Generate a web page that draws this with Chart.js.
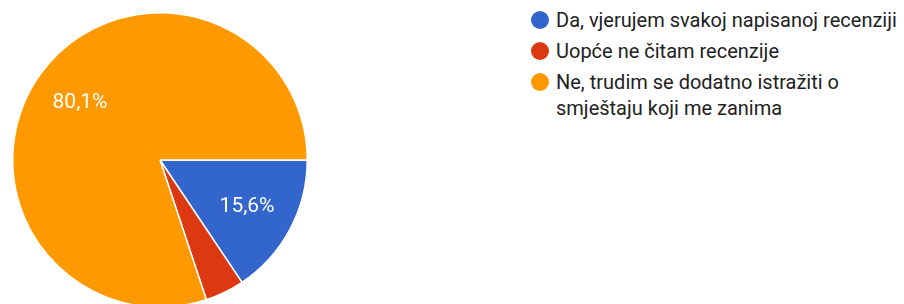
<!DOCTYPE html>
<html>
<head>
<meta charset="utf-8">
<script src="https://cdn.jsdelivr.net/npm/chart.js@4"></script>
<style>
    html, body { margin: 0; padding: 0; background: #fff; width: 904px; height: 304px; overflow: hidden; }
    #pieBox { position: absolute; left: 0; top: 0; width: 320px; height: 320px; }
    #legend { position: absolute; left: 532px; top: 7px; font-family: Roboto, Arial, sans-serif; font-size: 20px; color: #222; }
    .item { position: relative; padding-left: 24px; line-height: 26px; margin-bottom: 5px; white-space: nowrap; }
    .dot { position: absolute; left: -1px; top: 4px; width: 18px; height: 18px; border-radius: 50%; }
    .item.wrap { white-space: normal; width: 300px; }
</style>
</head>
<body>
<div id="pieBox"><canvas id="pieChart"></canvas></div>
<div id="legend"></div>
<script>
// Data
const labels = [
    'Da, vjerujem svakoj napisanoj recenziji',
    'Uopće ne čitam recenzije',
    'Ne, trudim se dodatno istražiti o smještaju koji me zanima'
];
const values = [15.6, 4.3, 80.1];
const colors = ['#3366cc', '#dc3912', '#ff9900'];

// HTML legend
const legend = document.getElementById('legend');
labels.forEach((text, i) => {
    const item = document.createElement('div');
    item.className = 'item' + (i === 2 ? ' wrap' : '');
    item.innerHTML = `<span class="dot" style="background:${colors[i]}"></span>${text}`;
    legend.appendChild(item);
});

// Percentage labels inside slices
const sliceLabels = {
    id: 'sliceLabels',
    afterDatasetsDraw(chart) {
        const ctx = chart.ctx;
        const meta = chart.getDatasetMeta(0);
        ctx.save();
        ctx.fillStyle = '#fff';
        ctx.font = '21px Roboto, Arial, sans-serif';
        ctx.textAlign = 'center';
        ctx.textBaseline = 'middle';
        meta.data.forEach((arc, i) => {
            if (values[i] < 5) return;
            const mid = (arc.startAngle + arc.endAngle) / 2;
            const r = arc.outerRadius * 0.67;
            const x = arc.x + Math.cos(mid) * r;
            const y = arc.y + Math.sin(mid) * r;
            ctx.fillText(values[i].toFixed(1).replace('.', ',') + '%', x, y);
        });
        ctx.restore();
    }
};

new Chart(document.getElementById('pieChart'), {
    type: 'pie',
    data: {
        labels: labels,
        datasets: [{
            data: values,
            backgroundColor: colors,
            borderColor: '#fff',
            borderWidth: 1.5
        }]
    },
    options: {
        responsive: true,
        maintainAspectRatio: false,
        animation: false,
        rotation: 90,
        layout: { padding: 12 },
        plugins: {
            legend: { display: false },
            tooltip: { enabled: false }
        }
    },
    plugins: [sliceLabels]
});
</script>
</body>
</html>
